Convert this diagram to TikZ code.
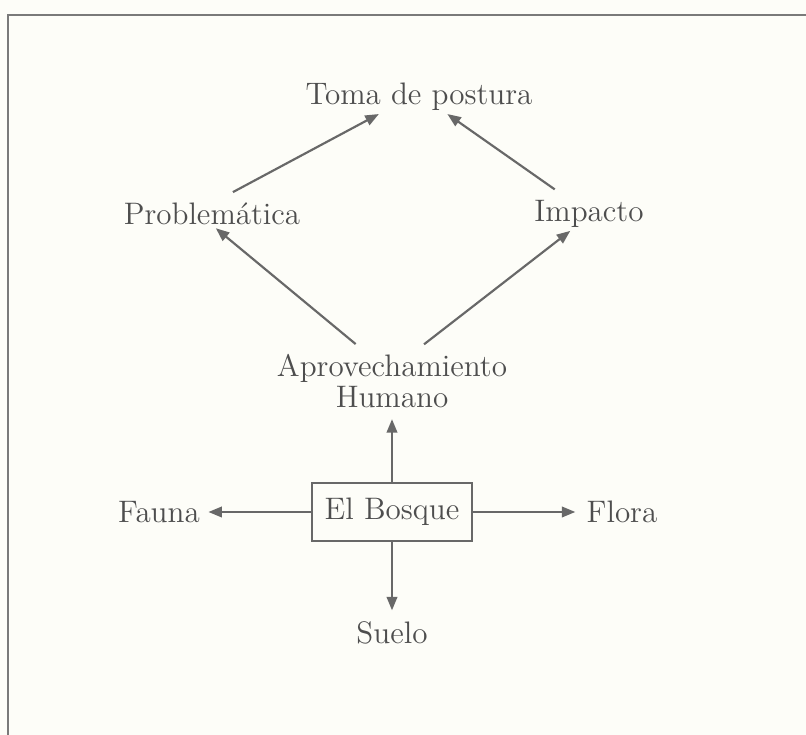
\documentclass[tikz,border=0pt]{standalone}
\usepackage{tikz}
\usetikzlibrary{arrows.meta}
\definecolor{ink}{HTML}{4E4E4E}
\definecolor{linegray}{HTML}{686868}
\definecolor{framegray}{HTML}{7A7A7A}
\definecolor{paper}{HTML}{FDFDF8}

\begin{document}
\begin{tikzpicture}[x=0.013cm, y=-0.013cm,
	every node/.style={text=ink, inner sep=1pt, font=\fontsize{11.5}{11.5}\selectfont},
	arr/.style={draw=linegray, line width=0.8pt, -{Triangle[length=5pt,width=3.9pt]}}]
	\fill[paper] (0,0) rectangle (806,735);
	\useasboundingbox (0,0) rectangle (806,735);
	\draw[draw=framegray, line width=1.1pt] (806,15) -- (8,15) -- (8,735);
	\node (toma)  at (419,97)  {Toma de postura};
	\node (prob)  at (212,214) {Problemática};
	\node (imp)   at (589,214) {Impacto};
	\node[align=center] (aprov) at (392,381) {Aprovechamiento\\Humano};
	\node[draw=linegray, line width=0.9pt, minimum width=2.08cm, minimum height=0.75cm] (bosque) at (392,512) {El Bosque};
	\node (fauna) at (159,512) {Fauna};
	\node (flora) at (622,512) {Flora};
	\node (suelo) at (392,633) {Suelo};
	\foreach \from/\to/\gap in {
		prob.65/toma.-157/6, imp.144/toma.-31/5,
		aprov.133/prob.-75/4, aprov.52/imp.-138/4}
	\draw[arr, shorten <=\gap pt] (\from) -- (\to);
	\foreach \to/\gap in {aprov/3, fauna/2, flora/3, suelo/3}
	\draw[arr, shorten >=\gap pt] (bosque) -- (\to);
\end{tikzpicture}
\end{document}
